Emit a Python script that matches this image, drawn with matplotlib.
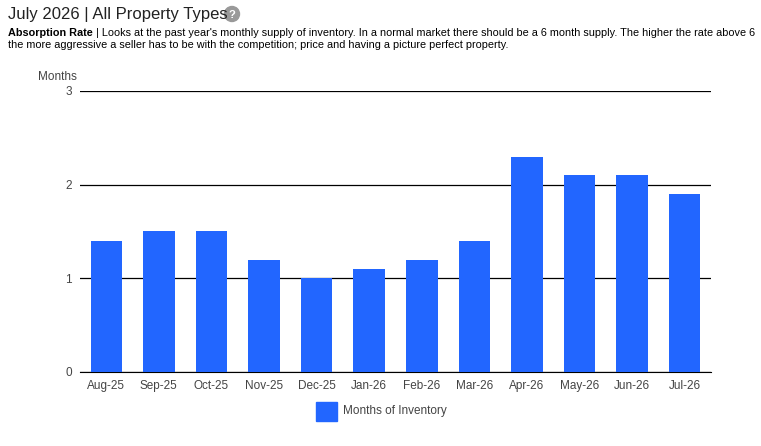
import matplotlib
matplotlib.use("Agg")
import matplotlib.pyplot as plt
from matplotlib.patches import Rectangle, Ellipse

months = ["Aug-25", "Sep-25", "Oct-25", "Nov-25", "Dec-25", "Jan-26",
          "Feb-26", "Mar-26", "Apr-26", "May-26", "Jun-26", "Jul-26"]
inventory = [1.4, 1.5, 1.5, 1.2, 1.0, 1.1, 1.2, 1.4, 2.3, 2.1, 2.1, 1.9]
yticks = [0, 1, 2, 3]

BLUE = "#2266ff"
plt.rcParams["font.family"] = ["Arial", "Liberation Sans", "DejaVu Sans"]

fig = plt.figure(figsize=(7.61, 4.46), dpi=100)
ax = fig.add_axes([80 / 761, 74 / 446, 631 / 761, 281 / 446])
x = range(len(months))
ax.bar(x, inventory, width=0.6, color=BLUE, zorder=3)
ax.set_xlim(-0.5, len(months) - 0.5)
ax.set_ylim(0, 3)
ax.set_yticks(yticks)
ax.set_yticklabels([str(t) for t in yticks], fontsize=8.5, color="#444444")
ax.set_xticks(list(x))
ax.set_xticklabels(months, fontsize=8.5, color="#444444")
ax.grid(axis="y", color="black", linewidth=0.9, zorder=1)
ax.tick_params(length=0, pad=6)
for s in ["top", "right", "left"]:
    ax.spines[s].set_visible(False)
ax.spines["bottom"].set_color("black")
ax.text(-0.067, 1.04, "Months", transform=ax.transAxes, fontsize=8.5, color="#444444")

fig.text(8 / 761, 1 - 14 / 446, "July 2026 | All Property Types", fontsize=12,
         va="center", color="#222222")
fig.patches.append(Ellipse((232 / 761, 1 - 14 / 446), 15 / 761, 15 / 446,
                           transform=fig.transFigure, color="#999999"))
fig.text(232 / 761, 1 - 14.5 / 446, "?", fontsize=8, color="white", ha="center",
         va="center", fontweight="bold")
bold = fig.text(8 / 761, 1 - 33 / 446, "Absorption Rate", fontsize=7.8,
                fontweight="bold", va="center")
ax.annotate(" | Looks at the past year's monthly supply of inventory. In a normal market "
            "there should be a 6 month supply. The higher the rate above 6",
            xycoords=bold, xy=(1, 0.5), va="center", fontsize=7.8)
fig.text(8 / 761, 1 - 45 / 446,
         "the more aggressive a seller has to be with the competition; price and having a "
         "picture perfect property.", fontsize=7.8, va="center")

fig.patches.append(Rectangle((316 / 761, 1 - 421 / 446), 21 / 761, 19 / 446,
                             transform=fig.transFigure, color=BLUE))
fig.text(343 / 761, 1 - 411 / 446, "Months of Inventory", fontsize=8.5,
         color="#444444", va="center")

fig.savefig("out.png", dpi=100)
